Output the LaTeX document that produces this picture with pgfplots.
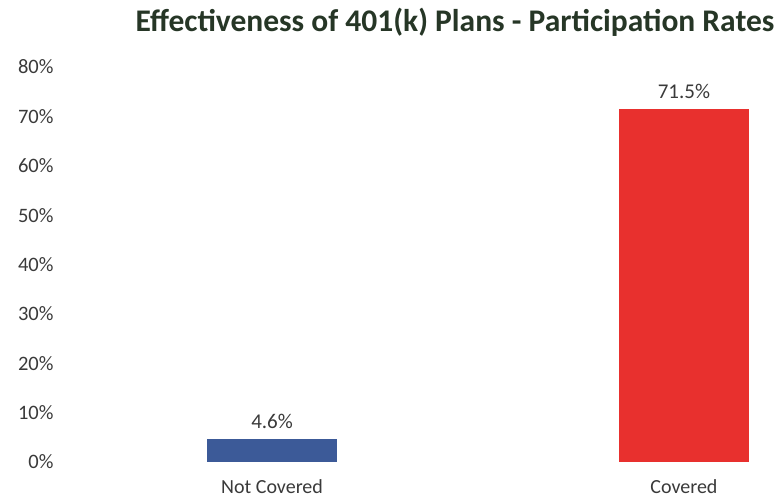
\documentclass[border=0pt]{standalone}
\usepackage{pgfplots}
\pgfplotsset{compat=1.18}
\usepackage{fontspec}
\setmainfont{Carlito}
\definecolor{titlecol}{HTML}{263626}
\definecolor{txt}{HTML}{3A3A3A}
\definecolor{barblue}{HTML}{3C5A98}
\definecolor{barred}{HTML}{E8302E}
\begin{document}
\begin{tikzpicture}
\useasboundingbox (0,0) rectangle (776pt,498pt);
\node[anchor=base, text=titlecol, font=\fontsize{31.5}{35}\selectfont\bfseries] at (455pt,466pt) {Effectiveness of 401(k) Plans - Participation Rates};
\begin{axis}[
  at={(55pt,36pt)}, anchor=south west,
  scale only axis, width=715pt, height=395pt,
  xmin=-0.527, xmax=1.209, ymin=0, ymax=80,
  axis line style={draw=none}, tick style={draw=none},
  ytick={0,10,...,80},
  yticklabel={\pgfmathprintnumber{\tick}\%},
  /pgf/number format/assume math mode=true,
  yticklabel style={text=txt, font=\fontsize{20.5}{22}\selectfont, xshift=2pt},
  xtick={0,1}, xticklabels={Not Covered, Covered},
  xticklabel style={anchor=base, inner sep=0pt, yshift=-27pt, text=txt, font=\fontsize{20}{22}\selectfont},
  ybar, bar width=130pt, bar shift=0pt,
  nodes near coords={\pgfmathprintnumber[fixed,precision=1]{\pgfplotspointmeta}\%},
  nodes near coords style={text=txt, font=\fontsize{21}{23}\selectfont, anchor=south, yshift=7pt},
  clip=false,
]
\addplot[fill=barblue, draw=none] coordinates {(0,4.6)};
\addplot[fill=barred, draw=none] coordinates {(1,71.5)};
\end{axis}
\end{tikzpicture}
\end{document}
